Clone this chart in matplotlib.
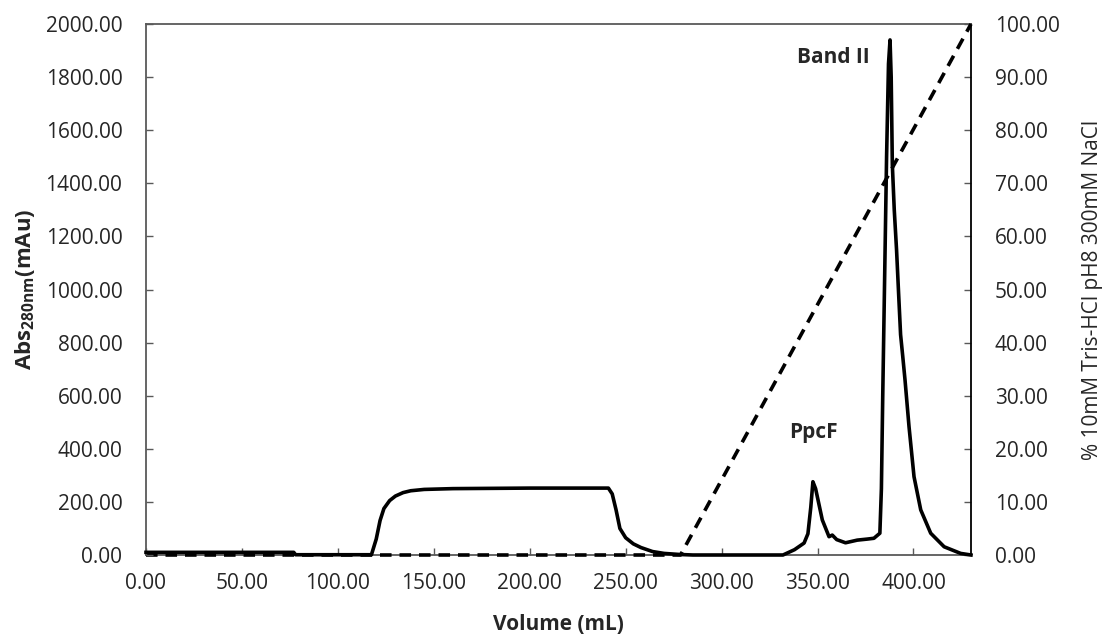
import matplotlib

matplotlib.use("Agg")
import matplotlib.pyplot as plt
from matplotlib.ticker import FormatStrFormatter, MultipleLocator

# elution volume (mL) and absorbance at 280 nm (mAu)
volume = [0, 77, 78, 117.5, 120, 122, 124, 127, 130, 134, 138, 145, 160, 200, 241,
          243, 245, 247, 250, 254, 258, 264, 270, 278, 285, 332, 338, 343, 345, 346.5,
          347.6, 349, 352.5, 356, 357.7, 360, 364.6, 370.7, 376, 379.4, 382.5, 383.3,
          384, 385, 386, 387, 387.8, 388.4, 389, 390, 391.2, 392.3, 393.3, 394.4,
          395.6, 397.7, 400.3, 403.8, 409, 416, 424.6, 430]
absorbance = [10, 10, 1, 1, 60, 130, 175, 205, 222, 235, 242, 247, 250, 252, 252,
              230, 170, 100, 65, 42, 28, 13, 6, 2, 0, 0, 20, 45, 80, 180,
              276, 250, 132, 69, 75, 58, 46, 56, 60, 63, 82, 250,
              600, 1050, 1500, 1850, 1940, 1800, 1470, 1300, 1149, 980, 830, 750,
              660, 483, 295, 170, 82, 31, 6, 0]

# salt gradient (% buffer B)
grad_volume = [0, 278.6, 430]
grad_percent = [0, 0, 100]

peaks = [("Band II", 358.4, 1872), ("PpcF", 348, 460)]

plt.rcParams["font.family"] = "Open Sans"
plt.rcParams["mathtext.fontset"] = "custom"
plt.rcParams["mathtext.rm"] = "Open Sans"
plt.rcParams["mathtext.bf"] = "Open Sans:bold"

txt = "#262626"
fig, ax = plt.subplots(figsize=(11.07, 6.39), dpi=100)
fig.subplots_adjust(left=146 / 1107, right=971 / 1107, bottom=1 - 555 / 639, top=1 - 24 / 639)
ax2 = ax.twinx()

ax.plot(volume, absorbance, color="black", lw=2.6, solid_joinstyle="round", zorder=3,
        clip_on=False)
ax2.plot(grad_volume, grad_percent, color="black", lw=2.6, linestyle=(0, (3.2, 2.2)),
         zorder=3, clip_on=False)
ax.set_zorder(ax2.get_zorder() + 1)
ax.patch.set_visible(False)

ax.set_xlim(0, 430)
ax.set_ylim(0, 2000)
ax2.set_ylim(0, 100)
ax.xaxis.set_major_locator(MultipleLocator(50))
ax.yaxis.set_major_locator(MultipleLocator(200))
ax2.yaxis.set_major_locator(MultipleLocator(10))
for a in (ax, ax2):
    a.xaxis.set_major_formatter(FormatStrFormatter("%.2f"))
    a.yaxis.set_major_formatter(FormatStrFormatter("%.2f"))
    a.tick_params(direction="in", length=5, width=1, labelsize=15, labelcolor=txt,
                  color="#595959", pad=17)
ax.tick_params(axis="x", pad=13)
# frame drawn by the lower axes only, so the dashes at 0 sit on top of it
for s in ax.spines.values():
    s.set_visible(False)
for s in ax2.spines.values():
    s.set_color("#595959")
    s.set_linewidth(1.3)
ax2.spines["right"].set_color("black")

for name, x, y in peaks:
    ax.text(x, y, name, ha="center", va="center", fontsize=15, fontweight="bold", color=txt)

ax.set_xlabel("Volume (mL)", fontsize=15, fontweight="bold", color=txt, labelpad=14)
ax.set_ylabel(r"$\mathbf{Abs_{280nm}(mAu)}$", fontsize=16, color=txt, labelpad=6)
ax2.set_ylabel("% 10mM Tris-HCl pH8 300mM NaCl", fontsize=15, color=txt, labelpad=16)

fig.savefig("out.png", dpi=100)
